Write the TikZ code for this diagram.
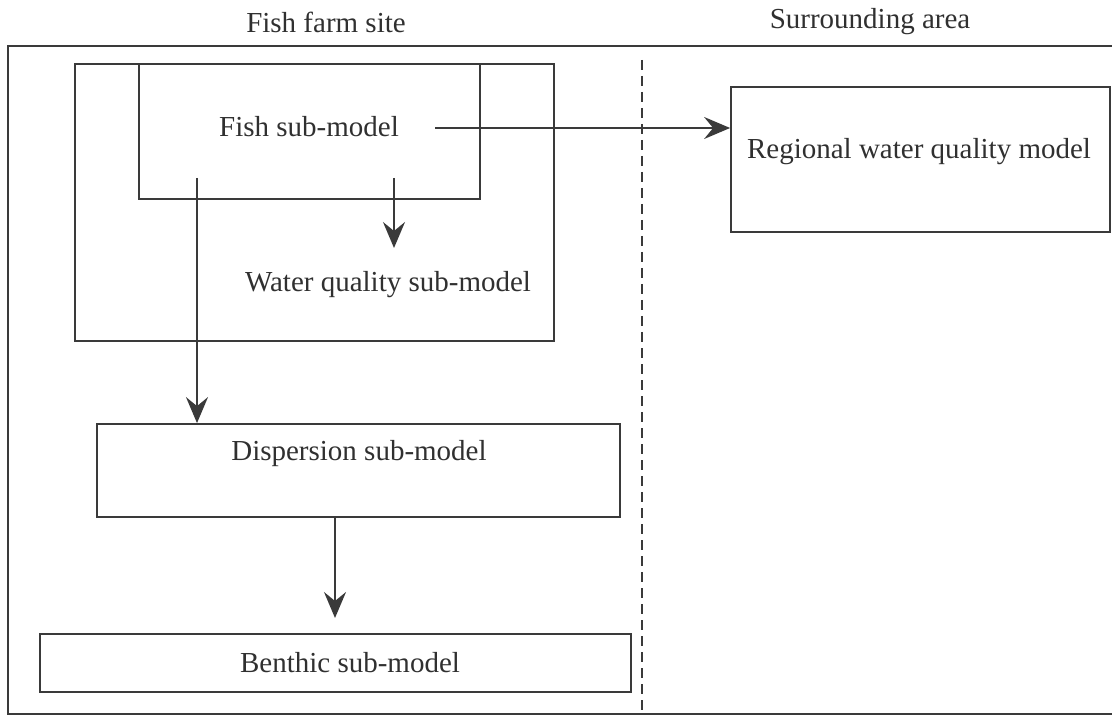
\documentclass[tikz,border=0pt]{standalone}
\usepackage{fontspec}
\setmainfont{Liberation Serif}
\usetikzlibrary{arrows.meta,fit}

\definecolor{linegray}{HTML}{3A3A3A}
\definecolor{textgray}{HTML}{303030}

\begin{document}
\begin{tikzpicture}[x=0.5pt,y=-0.5pt,
    box/.style={draw=linegray, line width=0.9pt, inner sep=0pt},
    lbl/.style={text=textgray, font=\fontsize{14.5}{17}\selectfont, inner sep=0pt},
    flow/.style={draw=linegray, line width=0.9pt, -{Stealth[length=13pt,width=11pt,inset=4.5pt]}}]
    \useasboundingbox (0,0) rectangle (1112,716);

    % site frame, open to the right
    \draw[linegray, line width=0.9pt] (1112,46) -- (8,46) -- (8,714) -- (1112,714);
    \node[lbl] (farmtitle) at (326,22) {Fish farm site};
    \node[lbl] (areatitle) at (870,22) {Surrounding area};

    \coordinate (divtop) at (642,60);
    \coordinate (divbot) at (642,714);
    \draw[linegray, line width=0.9pt, dash pattern=on 5pt off 3pt] (divtop) -- (divbot);

    % boxes
    \node[box, fit={(75,64) (554,341)}] (wq) {};
    \node[box, fit={(139,64) (480,199)}] (fish) {};
    \node[box, fit={(731,87) (1110,232)}] (regional) {};
    \node[box, fit={(97,424) (620,517)}] (disp) {};
    \node[box, fit={(40,634) (631,692)}] (benth) {};

    \node[lbl] (fishtext) at (309,127) {Fish sub-model};
    \node[lbl] (wqtext) at (388,285) {Water quality sub-model};
    \node[lbl] (regtext) at (919,152) {Regional water quality model};
    \node[lbl] (disptext) at (359,454) {Dispersion sub-model};
    \node[lbl] (benthtext) at (350,663) {Benthic sub-model};

    % connectors
    \coordinate (fishout) at (435,128);
    \coordinate (fishdown) at (394,178);
    \coordinate (wqin) at (394,248);
    \coordinate (fishdisp) at (197,178);
    \coordinate (dispout) at (335,517);
    \coordinate (benthin) at (335,618);
    \draw[flow] (fishout) -- (fishout -| regional.west);
    \draw[flow] (fishdown) -- (wqin);
    \draw[flow] (fishdisp) -- (fishdisp |- disp.north);
    \draw[flow] (dispout) -- (benthin);
    %\draw[flow] (disp.south) -- (benth.north);
\end{tikzpicture}
\end{document}
